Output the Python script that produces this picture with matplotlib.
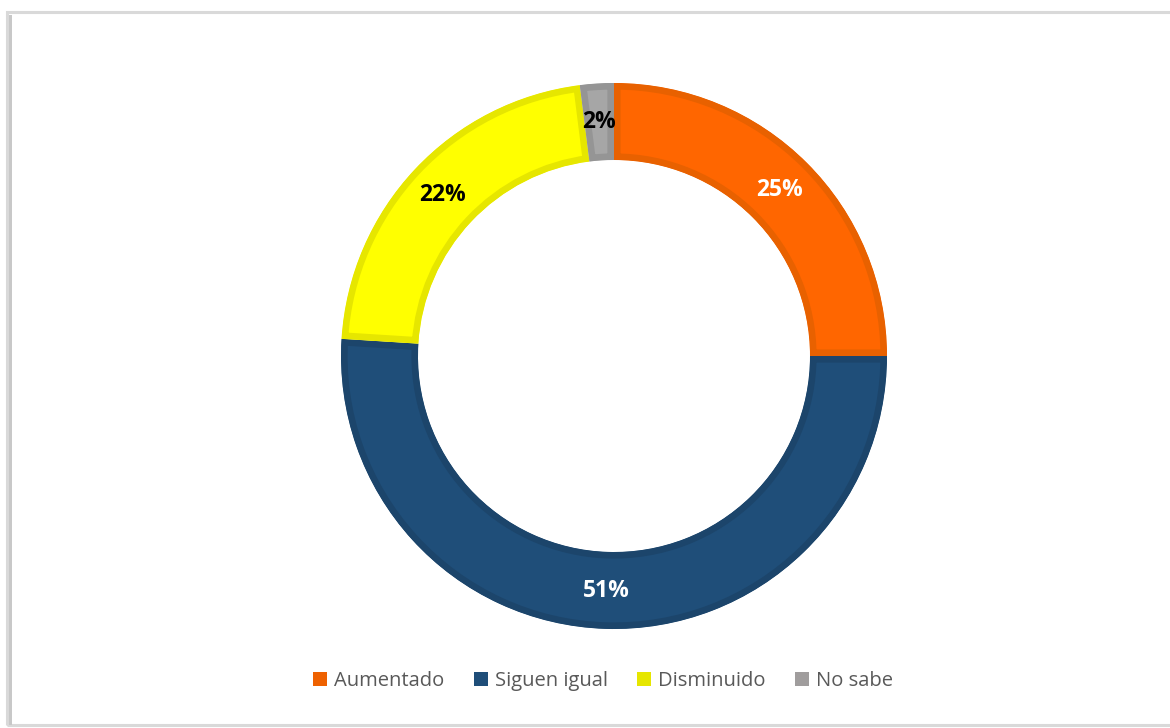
import matplotlib.pyplot as plt
from matplotlib.patches import Patch, Rectangle

labels = ["Aumentado", "Siguen igual", "Disminuido", "No sabe"]
values = [25, 51, 22, 2]
face_colors = ["#FF6600", "#1F4E79", "#FFFF00", "#A6A6A6"]
edge_colors = ["#E86100", "#1C456B", "#E6E600", "#959595"]
legend_colors = ["#EE6100", "#1F4E79", "#E6E600", "#A09D9D"]
text_colors = ["white", "white", "black", "black"]

fig = plt.figure(figsize=(11.7, 7.28), dpi=100)
fig.patch.set_facecolor("white")

# chart frame with a soft shadow on the left
fig.patches.append(Rectangle((7 / 1170, 3 / 728), 1.0, 713 / 728, transform=fig.transFigure,
                             fill=False, edgecolor="#D9D9D9", linewidth=2.2))
fig.patches.append(Rectangle((9 / 1170, 3 / 728), 3 / 1170, 710 / 728, transform=fig.transFigure,
                             facecolor="#C8C8C8", edgecolor="none"))

ax = fig.add_axes([0, 0, 1, 1])

wedges, texts, autotexts = ax.pie(
    values, colors=face_colors, startangle=90, counterclock=False,
    center=(614, 372), radius=273, autopct="%d%%", pctdistance=0.86,
    wedgeprops=dict(width=77, linewidth=9.5),
    textprops=dict(fontsize=16.5, fontweight="bold", family=["Open Sans", "DejaVu Sans"]),
)
ax.set_xlim(0, 1170)
ax.set_ylim(0, 728)
ax.set_aspect("equal")
ax.axis("off")

# darker border drawn only inside each segment (pie turns clipping off)
for w, ec in zip(wedges, edge_colors):
    w.set_edgecolor(ec)
    w.set_clip_on(True)
    w.set_clip_path(w)

for t, c in zip(autotexts, text_colors):
    t.set_color(c)

handles = [Patch(facecolor=c, edgecolor="none") for c in legend_colors]
fig.legend(handles, labels, loc="center", bbox_to_anchor=(603 / 1170, 1 - 681 / 728),
           ncol=4, frameon=False, handlelength=0.7, handleheight=0.7,
           handletextpad=0.35, columnspacing=1.45,
           prop=dict(family=["Open Sans", "DejaVu Sans"], size=14.5),
           labelcolor="#595959")

fig.savefig("out.png", dpi=100, facecolor="white")
